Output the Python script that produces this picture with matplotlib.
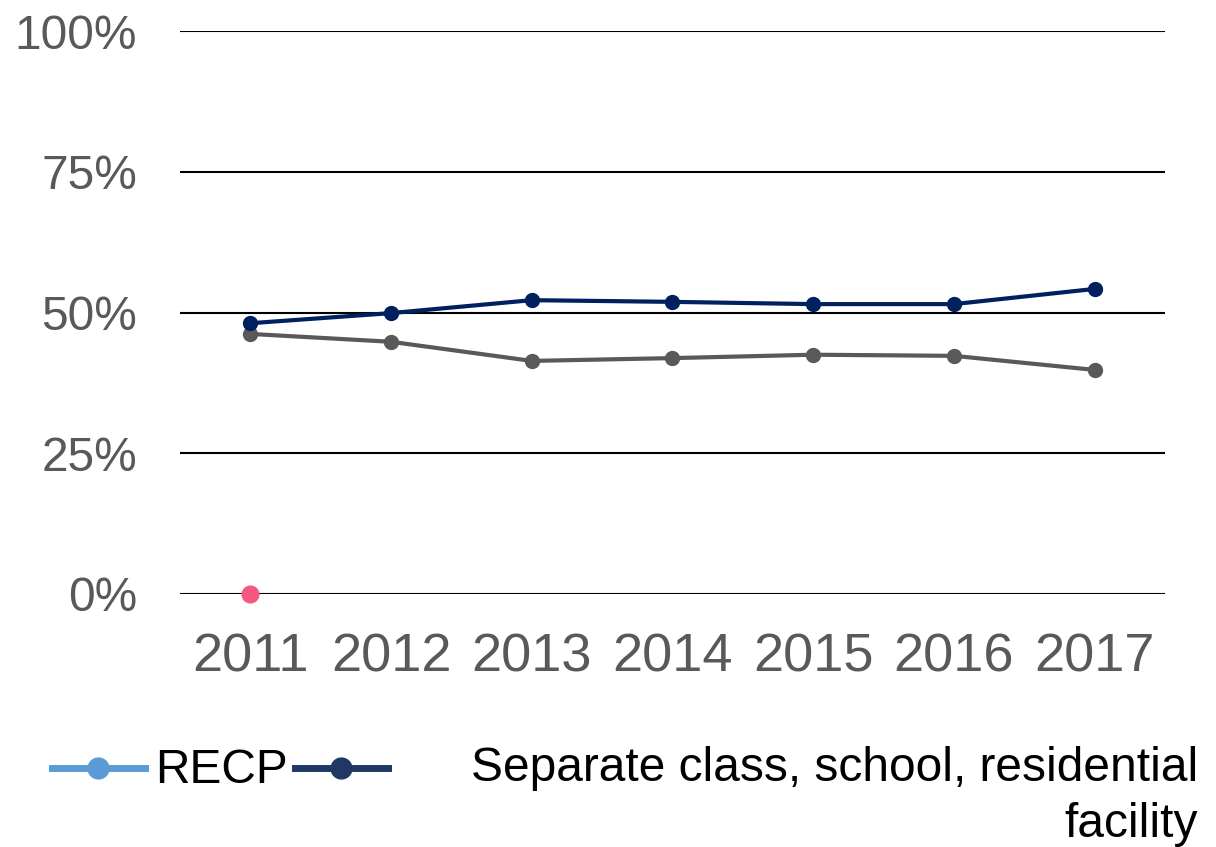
import matplotlib.pyplot as plt
from matplotlib.lines import Line2D

plt.rcParams['font.family'] = ['Liberation Sans', 'DejaVu Sans']

years = ['2011', '2012', '2013', '2014', '2015', '2016', '2017']
separate = [48.1, 49.9, 52.2, 51.9, 51.5, 51.5, 54.2]
other = [46.2, 44.8, 41.4, 41.9, 42.5, 42.3, 39.8]
recp = [0.0]
yticks = [0, 25, 50, 75, 100]
ylabels = ['0%', '25%', '50%', '75%', '100%']

fig = plt.figure(figsize=(12.16, 8.47), dpi=100)
ax = fig.add_axes([0.148, 0.299, 0.81, 0.664])

x = range(len(years))
ax.plot(x, separate, color='#002060', lw=3, marker='o', ms=10, zorder=4)
ax.plot(x, other, color='#595959', lw=3, marker='o', ms=10, zorder=3)
ax.plot([0], recp, color='#F4587F', lw=0, marker='o', ms=12, zorder=5)

ax.set_xlim(-0.5, 6.5)
ax.set_ylim(0, 100)
ax.set_yticks(yticks)
ax.set_yticklabels(ylabels)
ax.set_xticks(list(x))
ax.set_xticklabels(years)
ax.grid(axis='y', color='black', lw=1.5, zorder=0)
ax.set_axisbelow(True)
ax.tick_params(length=0, colors='#595959')
ax.tick_params(axis='y', labelsize=34.5, pad=31)
ax.tick_params(axis='x', labelsize=39, pad=28)
for s in ax.spines.values():
    s.set_visible(False)
for ln in ax.get_lines():
    ln.set_clip_on(False)

# legend
ly = 1 - 768 / 847
fig.add_artist(Line2D([52 / 1216, 145 / 1216], [ly, ly], color='#5B9BD5',
                      lw=5, transform=fig.transFigure))
fig.add_artist(Line2D([98 / 1216], [ly], color='#5B9BD5', marker='o', ms=15,
                      transform=fig.transFigure))
fig.add_artist(Line2D([295 / 1216, 388 / 1216], [ly, ly], color='#203864',
                      lw=5, transform=fig.transFigure))
fig.add_artist(Line2D([341 / 1216], [ly], color='#203864', marker='o', ms=15,
                      transform=fig.transFigure))
fig.text(155 / 1216, 1 - 770 / 847, 'RECP', fontsize=34.5, va='center', ha='left')
fig.text(1198 / 1216, 1 - 746 / 847, 'Separate class, school, residential\nfacility',
         fontsize=34.5, va='top', ha='right', multialignment='right', linespacing=1.32)

fig.savefig('out.png', dpi=100)
